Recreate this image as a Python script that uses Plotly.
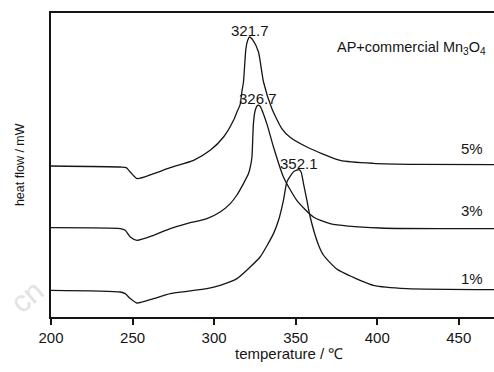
import plotly.graph_objects as go

# ---- data (heat flow in arbitrary units) ----
temp_5 = [200, 242.5, 246.1, 248.6, 252.7, 262.9, 273.1, 287.4, 297.6, 305.8, 311.9, 314.0, 316.0,
          317.0, 318.0, 319.5, 320.6, 321.7, 323.9, 327.2, 330.3, 335.4, 341.5, 346.6, 356.9,
          377.3, 397.5, 426.3, 471.6]
flow_5 = [151.0, 150.0, 149.4, 145.0, 138.4, 143.4, 149.4, 156.7, 166.7, 180.0, 196.7, 205.0, 212.7,
          225.0, 235.0, 268.4, 276.7, 280.0, 276.7, 265.0, 235.0, 208.4, 188.4, 179.7, 170.0,
          156.7, 153.7, 152.7, 152.4]

temp_3 = [200, 242.5, 245.5, 248.6, 252.7, 262.9, 273.1, 283.3, 295.6, 303.7, 309.9, 314.0, 318.0,
          321.1, 322.4, 323.2, 324.1, 325.2, 326.7, 328.2, 332.3, 336.4, 342.5, 350.7, 360.9,
          371.1, 401.8, 471.6]
flow_3 = [89.4, 88.4, 86.7, 80.0, 76.7, 81.7, 88.4, 93.4, 98.4, 105.0, 113.4, 122.0, 133.4,
          143.4, 151.7, 160.0, 193.4, 206.7, 211.7, 210.7, 193.4, 170.0, 140.0, 116.7, 100.0,
          93.4, 89.0, 88.4]

temp_1 = [200, 242.5, 245.5, 248.6, 252.7, 262.9, 273.1, 283.3, 295.6, 303.7, 314.0, 322.1, 328.2,
          336.4, 339.5, 342.5, 344.6, 346.6, 349.1, 352.1, 353.4, 354.8, 356.9, 358.9, 364.0,
          367.0, 375.2, 389.5, 397.7, 418.1, 471.6]
flow_1 = [26.7, 25.0, 23.4, 18.4, 14.0, 18.4, 23.4, 25.7, 28.4, 31.7, 38.4, 50.0, 60.0,
          83.4, 96.7, 116.7, 135.0, 140.7, 145.7, 147.4, 144.7, 133.4, 116.7, 100.0, 72.0,
          62.0, 48.0, 36.7, 31.7, 28.4, 27.4]

series_names = ["5%", "3%", "1%"]
peak_temps = [321.7, 326.7, 352.1]
peak_labels = ["321.7", "326.7", "352.1"]
label_levels = [168.7, 106.7, 38.7]
x_ticks = [200, 250, 300, 350, 400, 450]

FONT = "Liberation Sans, Arial, sans-serif"
INK = "#151515"

fig = go.Figure()
curves = [(temp_5, flow_5), (temp_3, flow_3), (temp_1, flow_1)]
for (t, f), name in zip(curves, series_names):
    fig.add_trace(go.Scatter(x=t, y=f, mode="lines", name=name,
                             line=dict(color=INK, width=1.3, shape="spline", smoothing=0.6),
                             showlegend=False, hoverinfo="skip"))

annotations = []
for (t, f), pt, pl in zip(curves, peak_temps, peak_labels):
    py = max(f)
    annotations.append(dict(x=pt, y=py, text=pl, showarrow=False, xanchor="center",
                            yanchor="bottom", yshift=-4, font=dict(size=15, color=INK, family=FONT)))
for name, lv in zip(series_names, label_levels):
    annotations.append(dict(x=466, y=lv, text=name, showarrow=False, xanchor="right",
                            yanchor="middle", font=dict(size=15, color=INK, family=FONT)))
annotations.append(dict(x=468, y=268.7, text="AP+commercial Mn<sub>3</sub>O<sub>4</sub>",
                        showarrow=False, xanchor="right", yanchor="middle",
                        font=dict(size=14.5, color=INK, family=FONT)))
# axis titles
annotations.append(dict(x=0.537, y=-0.1195, xref="paper", yref="paper", text="temperature / ℃",
                        showarrow=False, xanchor="center", yanchor="middle",
                        font=dict(size=15, color=INK, family=FONT)))
annotations.append(dict(x=-0.07, y=0.503, xref="paper", yref="paper", text="heat flow / mW",
                        showarrow=False, xanchor="center", yanchor="middle", textangle=-90,
                        font=dict(size=12.5, color=INK, family=FONT)))
# faint watermark fragment
annotations.append(dict(x=-0.055, y=0.068, xref="paper", yref="paper", text="cn",
                        showarrow=False, xanchor="center", yanchor="middle", textangle=-40,
                        font=dict(size=30, color="#e2e2e2", family=FONT)))

fig.update_layout(
    width=494, height=372,
    margin=dict(l=51, r=0, t=13, b=55),
    paper_bgcolor="white", plot_bgcolor="white",
    annotations=annotations,
    font=dict(family=FONT, color=INK),
)
fig.update_xaxes(range=[200, 471.6], tickvals=x_ticks, ticktext=[str(v) for v in x_ticks],
                 showgrid=False, zeroline=False, showline=True, linecolor=INK, linewidth=1.5,
                 mirror=True, ticks="outside", ticklen=6, tickwidth=1.5, tickcolor=INK,
                 tickfont=dict(size=15, family=FONT, color=INK))
fig.update_yaxes(range=[0, 304], showgrid=False, zeroline=False, showline=True, linecolor=INK,
                 linewidth=1.5, mirror=False, showticklabels=False, ticks="")

fig.write_html("out.html", config={"displayModeBar": False},
               post_script="document.body.style.margin='0px';document.body.style.padding='0px';")
